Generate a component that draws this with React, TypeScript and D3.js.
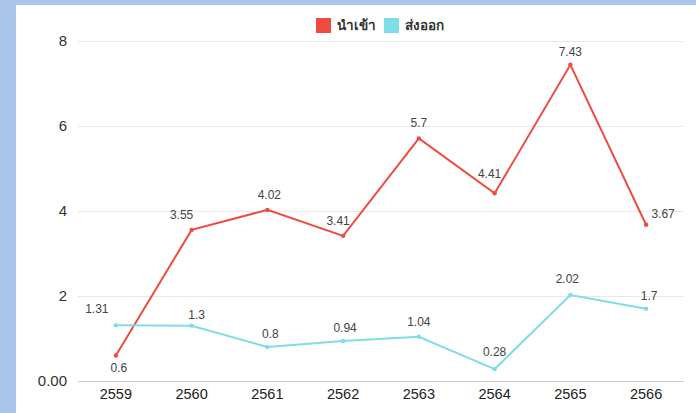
import React from 'react';
import * as d3 from 'd3';

const years = ['2559', '2560', '2561', '2562', '2563', '2564', '2565', '2566'];
const importValues = [0.6, 3.55, 4.02, 3.41, 5.7, 4.41, 7.43, 3.67];
const exportValues = [1.31, 1.3, 0.8, 0.94, 1.04, 0.28, 2.02, 1.7];
const yTicks = [0, 2, 4, 6, 8];
const seriesNames = ['นำเข้า', 'ส่งออก'];

// label nudges [dx, dy] relative to each point, mimicking the original layout
const importNudge = [[3, 17], [-10, -11], [2, -11], [-5, -11], [0, -11], [-5, -15], [0, -9], [17, -7]];
const exportNudge = [[-19, -12], [5, -7], [3, -9], [2, -9], [0, -11], [0, -13], [-3, -12], [3, -9]];

const WIDTH = 696;
const HEIGHT = 413;
const margin = { top: 40, right: 12, bottom: 32, left: 78 };
const RED = '#ef4b40';
const CYAN = '#7fdde5';
const FONT = '"Liberation Sans", Arial, sans-serif';

function App() {
  const svgRef = React.useRef(null);

  React.useEffect(() => {
    const svg = d3.select(svgRef.current);
    svg.selectAll('*').remove();

    // blue frame behind the white panel
    svg.append('rect').attr('width', WIDTH).attr('height', HEIGHT).attr('fill', '#a9c6e8');
    svg.append('rect').attr('x', 16).attr('y', 5).attr('width', WIDTH - 16).attr('height', HEIGHT - 5).attr('fill', '#ffffff');

    const x = d3
      .scaleBand()
      .domain(years)
      .range([margin.left, WIDTH - margin.right])
      .padding(0);

    const y = d3
      .scaleLinear()
      .domain([0, 8])
      .range([HEIGHT - margin.bottom, margin.top + 0.5]);

    const cx = (d) => x(d) + x.bandwidth() / 2;

    // grid lines
    svg
      .append('g')
      .selectAll('line')
      .data(yTicks)
      .enter()
      .append('line')
      .attr('x1', margin.left)
      .attr('x2', WIDTH - margin.right)
      .attr('y1', (d) => Math.round(y(d)) + 0.5)
      .attr('y2', (d) => Math.round(y(d)) + 0.5)
      .attr('stroke', (d) => (d === 0 ? '#c8c8c8' : '#e8e8e8'))
      .attr('stroke-width', 1);

    // y labels
    svg
      .append('g')
      .selectAll('text')
      .data(yTicks)
      .enter()
      .append('text')
      .attr('x', 67)
      .attr('y', (d) => y(d))
      .attr('dy', '0.35em')
      .attr('text-anchor', 'end')
      .attr('font-family', FONT)
      .attr('font-size', 15)
      .attr('fill', '#333')
      .text((d) => (d === 0 ? '0.00' : d3.format('d')(d)));

    // x labels
    svg
      .append('g')
      .selectAll('text')
      .data(years)
      .enter()
      .append('text')
      .attr('x', (d) => cx(d))
      .attr('y', 394)
      .attr('dy', '0.35em')
      .attr('text-anchor', 'middle')
      .attr('font-family', FONT)
      .attr('font-size', 14.5)
      .attr('fill', '#222')
      .text((d) => d);

    const line = d3
      .line()
      .x((d) => cx(d.year))
      .y((d) => y(d.value));

    const series = [
      { values: importValues, color: RED, nudge: importNudge },
      { values: exportValues, color: CYAN, nudge: exportNudge },
    ];

    series.forEach((s) => {
      const pts = years.map((yr, i) => ({ year: yr, value: s.values[i], nudge: s.nudge[i] }));
      const g = svg.append('g');
      g.append('path')
        .datum(pts)
        .attr('d', line)
        .attr('fill', 'none')
        .attr('stroke', s.color)
        .attr('stroke-width', 2);
      g.selectAll('circle')
        .data(pts)
        .enter()
        .append('circle')
        .attr('cx', (d) => cx(d.year))
        .attr('cy', (d) => y(d.value))
        .attr('r', 2.2)
        .attr('fill', s.color);
      g.selectAll('text')
        .data(pts)
        .enter()
        .append('text')
        .attr('x', (d) => cx(d.year) + d.nudge[0])
        .attr('y', (d) => y(d.value) + d.nudge[1])
        .attr('text-anchor', 'middle')
        .attr('font-family', FONT)
        .attr('font-size', 12)
        .attr('fill', '#444')
        .text((d) => d.value);
    });

    // legend
    const legend = svg.append('g').attr('transform', 'translate(316, 18)');
    const items = [
      { name: seriesNames[0], color: RED, x: 0 },
      { name: seriesNames[1], color: CYAN, x: 68 },
    ];
    items.forEach((it) => {
      legend
        .append('rect')
        .attr('x', it.x)
        .attr('y', 0)
        .attr('width', 15)
        .attr('height', 15)
        .attr('fill', it.color);
      legend
        .append('text')
        .attr('x', it.x + 21)
        .attr('y', 7.5)
        .attr('dy', '0.35em')
        .attr('font-family', '"Noto Sans", sans-serif')
        .attr('font-size', 13.5)
        .attr('font-weight', 600)
        .attr('fill', '#333')
        .text(it.name);
    });
  }, []);

  return (
    <svg
      ref={svgRef}
      width={WIDTH}
      height={HEIGHT}
      style={{ position: 'absolute', left: 0, top: 0, display: 'block' }}
    ></svg>
  );
}

export default App;
